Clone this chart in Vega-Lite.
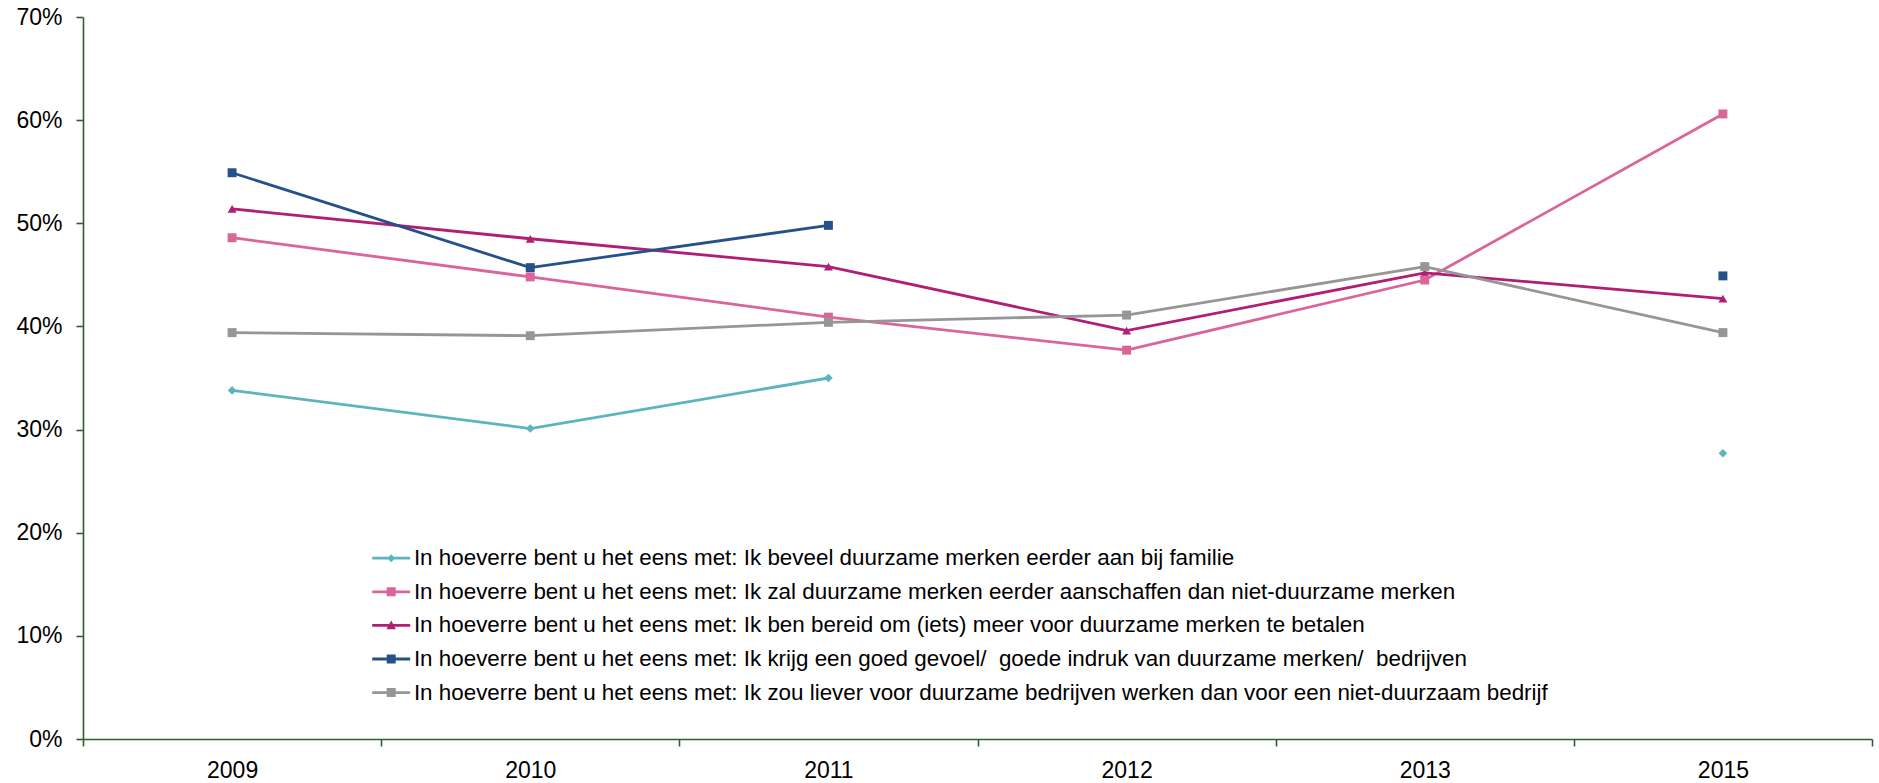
{
  "$schema": "https://vega.github.io/schema/vega-lite/v6.json",
  "width": 1789,
  "height": 722,
  "autosize": {"type": "none"},
  "padding": {"left": 83, "top": 17, "right": 7, "bottom": 44},
  "background": "white",
  "data": {
    "values": [
      {"reeks": "In hoeverre bent u het eens met: Ik beveel duurzame merken eerder aan bij familie", "jaar": "2009", "pct": 33.8},
      {"reeks": "In hoeverre bent u het eens met: Ik beveel duurzame merken eerder aan bij familie", "jaar": "2010", "pct": 30.1},
      {"reeks": "In hoeverre bent u het eens met: Ik beveel duurzame merken eerder aan bij familie", "jaar": "2011", "pct": 35.0},
      {"reeks": "In hoeverre bent u het eens met: Ik beveel duurzame merken eerder aan bij familie", "jaar": "2012", "pct": null},
      {"reeks": "In hoeverre bent u het eens met: Ik beveel duurzame merken eerder aan bij familie", "jaar": "2013", "pct": null},
      {"reeks": "In hoeverre bent u het eens met: Ik beveel duurzame merken eerder aan bij familie", "jaar": "2015", "pct": 27.7},
      {"reeks": "In hoeverre bent u het eens met: Ik zal duurzame merken eerder aanschaffen dan niet-duurzame merken", "jaar": "2009", "pct": 48.6},
      {"reeks": "In hoeverre bent u het eens met: Ik zal duurzame merken eerder aanschaffen dan niet-duurzame merken", "jaar": "2010", "pct": 44.8},
      {"reeks": "In hoeverre bent u het eens met: Ik zal duurzame merken eerder aanschaffen dan niet-duurzame merken", "jaar": "2011", "pct": 40.9},
      {"reeks": "In hoeverre bent u het eens met: Ik zal duurzame merken eerder aanschaffen dan niet-duurzame merken", "jaar": "2012", "pct": 37.7},
      {"reeks": "In hoeverre bent u het eens met: Ik zal duurzame merken eerder aanschaffen dan niet-duurzame merken", "jaar": "2013", "pct": 44.5},
      {"reeks": "In hoeverre bent u het eens met: Ik zal duurzame merken eerder aanschaffen dan niet-duurzame merken", "jaar": "2015", "pct": 60.6},
      {"reeks": "In hoeverre bent u het eens met: Ik ben bereid om (iets) meer voor duurzame merken te betalen", "jaar": "2009", "pct": 51.4},
      {"reeks": "In hoeverre bent u het eens met: Ik ben bereid om (iets) meer voor duurzame merken te betalen", "jaar": "2010", "pct": 48.5},
      {"reeks": "In hoeverre bent u het eens met: Ik ben bereid om (iets) meer voor duurzame merken te betalen", "jaar": "2011", "pct": 45.8},
      {"reeks": "In hoeverre bent u het eens met: Ik ben bereid om (iets) meer voor duurzame merken te betalen", "jaar": "2012", "pct": 39.6},
      {"reeks": "In hoeverre bent u het eens met: Ik ben bereid om (iets) meer voor duurzame merken te betalen", "jaar": "2013", "pct": 45.2},
      {"reeks": "In hoeverre bent u het eens met: Ik ben bereid om (iets) meer voor duurzame merken te betalen", "jaar": "2015", "pct": 42.7},
      {"reeks": "In hoeverre bent u het eens met: Ik krijg een goed gevoel/  goede indruk van duurzame merken/  bedrijven", "jaar": "2009", "pct": 54.9},
      {"reeks": "In hoeverre bent u het eens met: Ik krijg een goed gevoel/  goede indruk van duurzame merken/  bedrijven", "jaar": "2010", "pct": 45.7},
      {"reeks": "In hoeverre bent u het eens met: Ik krijg een goed gevoel/  goede indruk van duurzame merken/  bedrijven", "jaar": "2011", "pct": 49.8},
      {"reeks": "In hoeverre bent u het eens met: Ik krijg een goed gevoel/  goede indruk van duurzame merken/  bedrijven", "jaar": "2012", "pct": null},
      {"reeks": "In hoeverre bent u het eens met: Ik krijg een goed gevoel/  goede indruk van duurzame merken/  bedrijven", "jaar": "2013", "pct": null},
      {"reeks": "In hoeverre bent u het eens met: Ik krijg een goed gevoel/  goede indruk van duurzame merken/  bedrijven", "jaar": "2015", "pct": 44.9},
      {"reeks": "In hoeverre bent u het eens met: Ik zou liever voor duurzame bedrijven werken dan voor een niet-duurzaam bedrijf", "jaar": "2009", "pct": 39.4},
      {"reeks": "In hoeverre bent u het eens met: Ik zou liever voor duurzame bedrijven werken dan voor een niet-duurzaam bedrijf", "jaar": "2010", "pct": 39.1},
      {"reeks": "In hoeverre bent u het eens met: Ik zou liever voor duurzame bedrijven werken dan voor een niet-duurzaam bedrijf", "jaar": "2011", "pct": 40.4},
      {"reeks": "In hoeverre bent u het eens met: Ik zou liever voor duurzame bedrijven werken dan voor een niet-duurzaam bedrijf", "jaar": "2012", "pct": 41.1},
      {"reeks": "In hoeverre bent u het eens met: Ik zou liever voor duurzame bedrijven werken dan voor een niet-duurzaam bedrijf", "jaar": "2013", "pct": 45.8},
      {"reeks": "In hoeverre bent u het eens met: Ik zou liever voor duurzame bedrijven werken dan voor een niet-duurzaam bedrijf", "jaar": "2015", "pct": 39.4}
    ]
  },
  "encoding": {
    "x": {
      "field": "jaar",
      "type": "ordinal",
      "scale": {"type": "band", "paddingInner": 0, "paddingOuter": 0},
      "axis": {
        "title": null,
        "labelAngle": 0,
        "tickBand": "extent",
        "tickSize": 7,
        "labelPadding": 13,
        "labelFontSize": 23,
        "grid": false
      }
    },
    "y": {
      "field": "pct",
      "type": "quantitative",
      "scale": {"domain": [0, 70], "nice": false},
      "axis": {
        "title": null,
        "values": [0, 10, 20, 30, 40, 50, 60, 70],
        "labelExpr": "datum.value + '%'",
        "tickSize": 7,
        "labelPadding": 14,
        "labelFontSize": 23,
        "grid": false
      }
    },
    "color": {
      "field": "reeks",
      "type": "nominal",
      "scale": {
        "domain": [
          "In hoeverre bent u het eens met: Ik beveel duurzame merken eerder aan bij familie",
          "In hoeverre bent u het eens met: Ik zal duurzame merken eerder aanschaffen dan niet-duurzame merken",
          "In hoeverre bent u het eens met: Ik ben bereid om (iets) meer voor duurzame merken te betalen",
          "In hoeverre bent u het eens met: Ik krijg een goed gevoel/  goede indruk van duurzame merken/  bedrijven",
          "In hoeverre bent u het eens met: Ik zou liever voor duurzame bedrijven werken dan voor een niet-duurzaam bedrijf"
        ],
        "range": ["#5DB4BF", "#D9659A", "#B01E76", "#25508A", "#969696"]
      },
      "legend": {
        "title": null,
        "orient": "none",
        "legendX": 297,
        "legendY": 530,
        "padding": 0,
        "symbolSize": 100,
        "labelOffset": 11.5,
        "rowPadding": 10.6,
        "labelFontSize": 22.4,
        "labelLimit": 2000,
        "labelColor": "#000000",
        "labelExpr": "replace(replace(datum.label, '/  ', '/\u00a0 '), '/  ', '/\u00a0 ')",
        "encode": {
          "symbols": {
            "update": {
              "shape": {"signal": "['M-3.8,-0.28H3.8V0.28H-3.8Z M0,-0.8L0.8,0L0,0.8L-0.8,0Z', 'M-3.8,-0.28H3.8V0.28H-3.8Z M-0.9,-0.9H0.9V0.9H-0.9Z', 'M-3.8,-0.28H3.8V0.28H-3.8Z M0,-1L0.95,0.75L-0.95,0.75Z', 'M-3.8,-0.28H3.8V0.28H-3.8Z M-0.9,-0.9H0.9V0.9H-0.9Z', 'M-3.8,-0.28H3.8V0.28H-3.8Z M-0.9,-0.9H0.9V0.9H-0.9Z'][indexof(domain('color'), datum.value)]"},
              "fill": {"signal": "scale('color', datum.value)"},
              "stroke": {"value": "transparent"},
              "strokeWidth": {"value": 0},
              "opacity": {"value": 1},
              "fillOpacity": {"value": 1}
            }
          }
        }
      }
    }
  },
  "layer": [
    {
      "mark": {"type": "line", "strokeWidth": 2.8, "invalid": "break-paths-show-domains"}
    },
    {
      "transform": [{"filter": {"field": "reeks", "oneOf": ["In hoeverre bent u het eens met: Ik beveel duurzame merken eerder aan bij familie"]}}],
      "mark": {"type": "point", "shape": "diamond", "filled": true, "opacity": 1, "size": 75}
    },
    {
      "transform": [{"filter": {"field": "reeks", "oneOf": ["In hoeverre bent u het eens met: Ik ben bereid om (iets) meer voor duurzame merken te betalen"]}}],
      "mark": {"type": "point", "shape": "triangle-up", "filled": true, "opacity": 1, "size": 80}
    },
    {
      "transform": [{"filter": {"field": "reeks", "oneOf": [
        "In hoeverre bent u het eens met: Ik zal duurzame merken eerder aanschaffen dan niet-duurzame merken",
        "In hoeverre bent u het eens met: Ik krijg een goed gevoel/  goede indruk van duurzame merken/  bedrijven",
        "In hoeverre bent u het eens met: Ik zou liever voor duurzame bedrijven werken dan voor een niet-duurzaam bedrijf"
      ]}}],
      "mark": {"type": "point", "shape": "square", "filled": true, "opacity": 1, "size": 80}
    }
  ],
  "config": {
    "font": "Liberation Sans",
    "view": {"stroke": null},
    "axis": {
      "domainColor": "#2E5E2E",
      "tickColor": "#2E5E2E",
      "domainWidth": 1.6,
      "tickWidth": 1.6,
      "labelColor": "#000000",
      "labelFont": "Liberation Sans"
    },
    "legend": {"labelFont": "Liberation Sans"}
  }
}
